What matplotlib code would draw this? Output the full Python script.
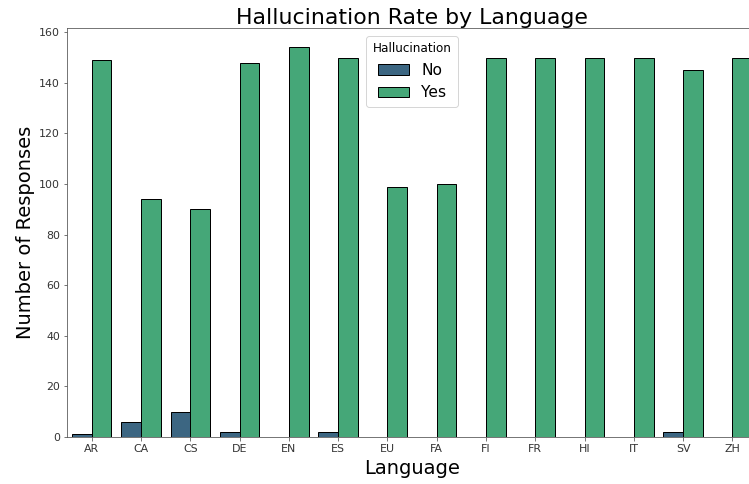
import colorsys

import matplotlib
matplotlib.use("Agg")
import matplotlib.pyplot as plt
import numpy as np

languages = ["AR", "CA", "CS", "DE", "EN", "ES", "EU", "FA", "FI", "FR", "HI", "IT", "SV", "ZH"]
no_counts = [1, 6, 10, 2, 0, 2, 0, 0, 0, 0, 0, 0, 2, 0]
yes_counts = [149, 94, 90, 148, 154, 150, 99, 100, 150, 150, 150, 150, 145, 150]
hue_labels = ["No", "Yes"]


def desaturate(color, prop=0.75):
    h, l, s = colorsys.rgb_to_hls(*color[:3])
    return colorsys.hls_to_rgb(h, l, s * prop)


cmap = plt.get_cmap("viridis")
colors = [desaturate(cmap(v)) for v in (1 / 3, 2 / 3)]

fig = plt.figure(figsize=(749 / 72, 484 / 72), dpi=72)
# the original image was cut off at the right edge, so the axes run past it
ax = fig.add_axes([67 / 749, 47 / 484, 690 / 749, 409 / 484])

x = np.arange(len(languages))
width = 0.4
for i, (counts, color, label) in enumerate(zip([no_counts, yes_counts], colors, hue_labels)):
    heights = [c if c > 0 else np.nan for c in counts]
    ax.bar(x - 0.2 + i * width, heights, width, color=color, edgecolor="black",
           linewidth=1, label=label)

ax.set_xlim(-0.5, len(languages) - 0.5)
ax.set_ylim(0, max(yes_counts) * 1.05)
ax.set_xticks(x, languages)
ax.tick_params(labelsize=11, labelcolor="#333333", color="#555555")
for spine in ax.spines.values():
    spine.set_color("#555555")
ax.set_title("Hallucination Rate by Language", fontsize=22, pad=4)
ax.set_xlabel("Language", fontsize=19.5, labelpad=5)
ax.set_ylabel("Number of Responses", fontsize=19.5)
ax.legend(title="Hallucination", fontsize=15.5, title_fontsize=12, loc="upper center")

fig.savefig("out.png", dpi=72)
